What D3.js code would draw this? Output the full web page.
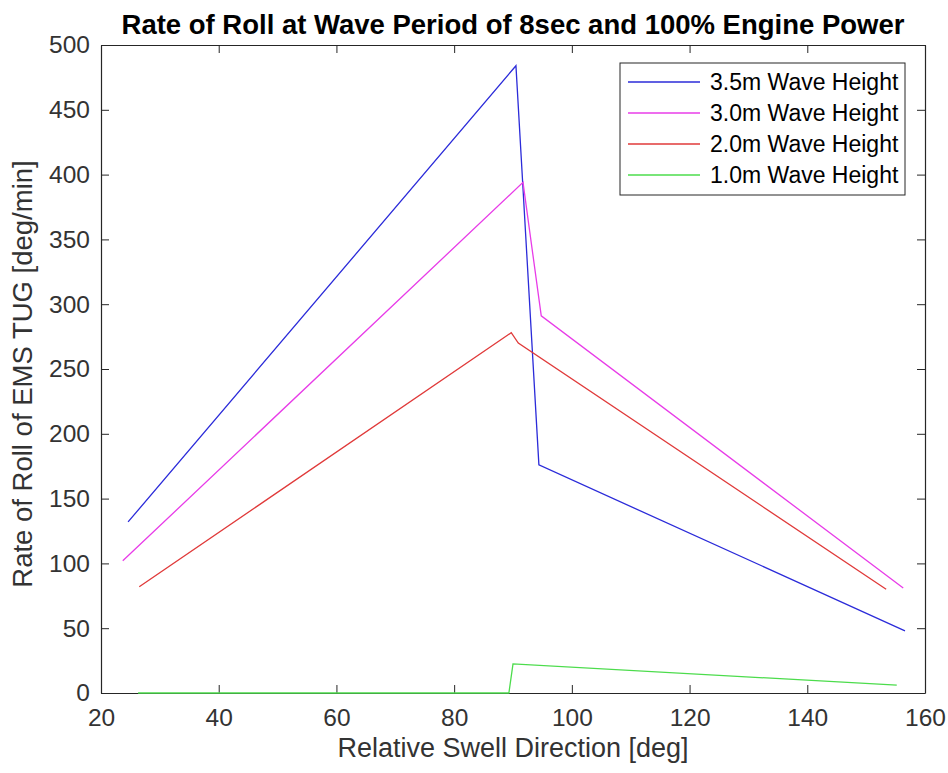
<!DOCTYPE html>
<html>
<head>
<meta charset="utf-8">
<script src="https://cdn.jsdelivr.net/npm/d3@7"></script>
<style>
  body { margin: 0; background: #fff; }
  text { font-family: "Liberation Sans", Arial, sans-serif; }
</style>
</head>
<body>
<div id="chart"></div>
<script>
// series: [direction deg, rate deg/min]
const h35 = [[24.6, 132], [90.5, 484], [94.4, 176], [156.6, 48]];
const h30 = [[23.7, 102], [91.7, 394], [94.8, 291], [156.3, 81]];
const h20 = [[26.5, 82], [89.7, 278], [90.9, 270], [153.4, 80]];
const h10 = [[26.3, 0], [89.3, 0], [90.0, 22.5], [155.2, 6]];

const seriesNames = ['3.5m Wave Height', '3.0m Wave Height', '2.0m Wave Height', '1.0m Wave Height'];
const seriesColors = ['#2b2bd9', '#e83ce8', '#e03a3a', '#4cdc4c'];
const xTicks = [20, 40, 60, 80, 100, 120, 140, 160];
const yTicks = [0, 50, 100, 150, 200, 250, 300, 350, 400, 450, 500];

const margin = { top: 45, right: 23, bottom: 80, left: 101 },
      width = 948 - margin.left - margin.right,
      height = 773 - margin.top - margin.bottom;

let svg = d3.select('#chart')
            .append('svg')
              .attr('width', 948)
              .attr('height', 773)
            .append('g')
              .attr('transform', 'translate(' + margin.left + ',' + margin.top + ')');

let x = d3.scaleLinear().domain([20, 160]).range([0, width]);
let y = d3.scaleLinear().domain([0, 500]).range([height, 0]);

const axisColor = '#262626';

// axes, ticks inward on all four sides (box on)
let styleAxis = (g) => {
  g.select('.domain').attr('stroke', axisColor).attr('stroke-width', 1.2);
  g.selectAll('.tick line').attr('stroke', axisColor);
  g.selectAll('text').attr('fill', '#333').style('font-size', '24.5px');
};

svg.append('g')
  .attr('transform', 'translate(0,' + height + ')')
  .call(d3.axisBottom(x).tickValues(xTicks).tickSizeInner(-8).tickSizeOuter(0).tickPadding(16))
  .call(styleAxis);
svg.append('g')
  .call(d3.axisTop(x).tickValues(xTicks).tickSizeInner(-8).tickSizeOuter(0).tickFormat(''))
  .call(styleAxis);
svg.append('g')
  .call(d3.axisLeft(y).tickValues(yTicks).tickSizeInner(-8).tickSizeOuter(0).tickPadding(11))
  .call(styleAxis);
svg.append('g')
  .attr('transform', 'translate(' + width + ',0)')
  .call(d3.axisRight(y).tickValues(yTicks).tickSizeInner(-8).tickSizeOuter(0).tickFormat(''))
  .call(styleAxis);

// lines
const allSeries = [h35, h30, h20, h10];
let line = d3.line().x((d) => x(d[0])).y((d) => y(d[1]));
allSeries.forEach((s, i) => {
  svg.append('path')
    .datum(s)
    .attr('fill', 'none')
    .attr('stroke', seriesColors[i])
    .attr('stroke-width', 1.3)
    .attr('d', line);
});

// title and labels
svg.append('text')
  .attr('x', width / 2)
  .attr('y', -11)
  .attr('text-anchor', 'middle')
  .style('font-size', '27.5px')
  .style('font-weight', 'bold')
  .attr('fill', '#000')
  .text('Rate of Roll at Wave Period of 8sec and 100% Engine Power');

svg.append('text')
  .attr('x', width / 2)
  .attr('y', height + 64)
  .attr('text-anchor', 'middle')
  .style('font-size', '27px')
  .attr('fill', '#333')
  .text('Relative Swell Direction [deg]');

svg.append('text')
  .attr('transform', 'translate(-69,' + (height / 2 + 5) + ') rotate(-90)')
  .attr('text-anchor', 'middle')
  .style('font-size', '27.5px')
  .attr('fill', '#333')
  .text('Rate of Roll of EMS TUG [deg/min]');

// legend
let legend = svg.append('g').attr('transform', 'translate(' + (620 - margin.left) + ',' + (63 - margin.top) + ')');
legend.append('rect')
  .attr('width', 285)
  .attr('height', 132)
  .attr('fill', '#fff')
  .attr('stroke', axisColor)
  .attr('stroke-width', 1);
seriesNames.forEach((name, i) => {
  let yy = 19 + i * 31;
  legend.append('line')
    .attr('x1', 8).attr('x2', 80)
    .attr('y1', yy).attr('y2', yy)
    .attr('stroke', seriesColors[i])
    .attr('stroke-width', 1.3);
  legend.append('text')
    .attr('x', 90)
    .attr('y', yy + 8)
    .style('font-size', '23px')
    .attr('fill', '#000')
    .text(name);
});
</script>
</body>
</html>
